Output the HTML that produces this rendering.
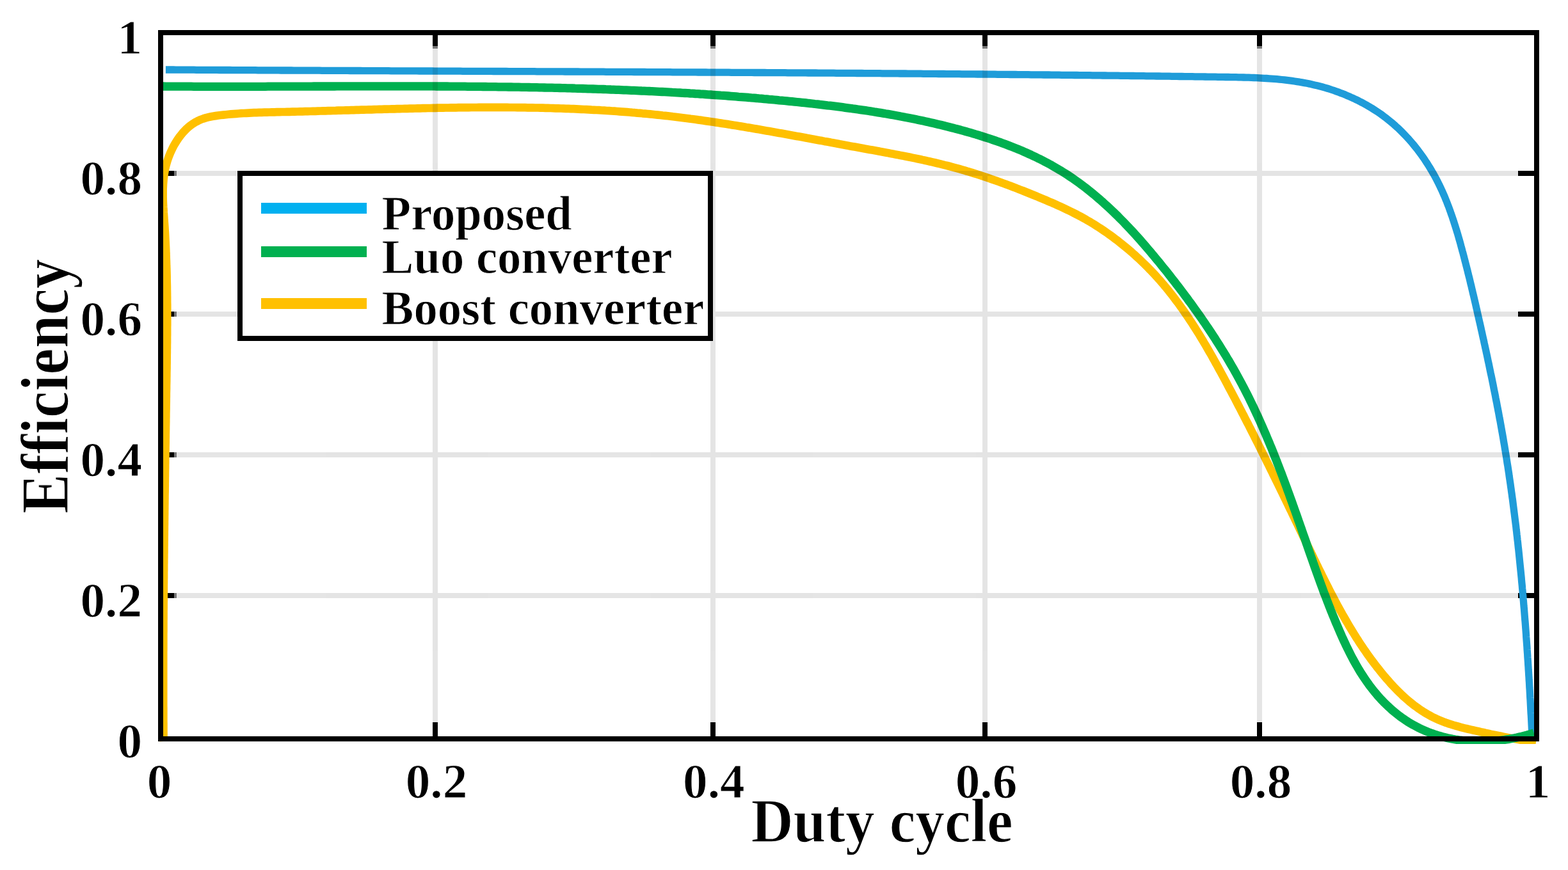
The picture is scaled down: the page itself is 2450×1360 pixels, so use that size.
<!DOCTYPE html>
<html lang="en">
<head>
<meta charset="utf-8">
<title>Efficiency versus duty cycle</title>
<style>
html,body{margin:0;padding:0;background:#fff;}
body{width:2450px;height:1360px;overflow:hidden;}
svg{display:block;}
text{font-family:"Liberation Serif","DejaVu Serif",serif;font-weight:bold;fill:#000;stroke:#fff;stroke-width:1px;}
.axl{stroke-width:1.3px;}
.crisp{shape-rendering:crispEdges;}
.curve{fill:none;stroke-linejoin:round;stroke-linecap:butt;}
</style>
</head>
<body>
<svg xmlns="http://www.w3.org/2000/svg" width="2450" height="1360" viewBox="0 0 2450 1360">
<rect x="0" y="0" width="2450" height="1360" fill="#ffffff"/>
<g class="crisp" fill="#000000">
<rect x="676.0" y="55" width="8" height="17"/>
<rect x="676.0" y="72" width="8" height="4" fill="#777777"/>
<rect x="676.0" y="1129" width="8" height="22"/>
<rect x="1109.5" y="55" width="8" height="17"/>
<rect x="1109.5" y="72" width="8" height="4" fill="#777777"/>
<rect x="1109.5" y="1129" width="8" height="22"/>
<rect x="1534.5" y="55" width="8" height="17"/>
<rect x="1534.5" y="72" width="8" height="4" fill="#777777"/>
<rect x="1534.5" y="1129" width="8" height="22"/>
<rect x="1964.0" y="55" width="8" height="17"/>
<rect x="1964.0" y="72" width="8" height="4" fill="#777777"/>
<rect x="1964.0" y="1129" width="8" height="22"/>
<rect x="255" y="267.0" width="17" height="8"/>
<rect x="272" y="267.0" width="4" height="8" fill="#777777"/>
<rect x="2372" y="267.0" width="25" height="8"/>
<rect x="255" y="487.0" width="17" height="8"/>
<rect x="272" y="487.0" width="4" height="8" fill="#777777"/>
<rect x="2372" y="487.0" width="25" height="8"/>
<rect x="255" y="707.0" width="17" height="8"/>
<rect x="272" y="707.0" width="4" height="8" fill="#777777"/>
<rect x="2372" y="707.0" width="25" height="8"/>
<rect x="255" y="927.0" width="17" height="8"/>
<rect x="272" y="927.0" width="4" height="8" fill="#777777"/>
<rect x="2372" y="927.0" width="25" height="8"/>
</g>
<defs><clipPath id="plotclip"><rect x="247" y="47" width="2158" height="1116"/></clipPath></defs>
<g clip-path="url(#plotclip)">
<path class="curve" stroke="#ffc000" stroke-width="12.7" d="M255.6 1159.0 L255.5 1155.0 L255.5 1151.0 L255.5 1147.0 L255.4 1143.0 L255.4 1139.0 L255.4 1135.0 L255.4 1131.1 L255.3 1127.1 L255.3 1123.1 L255.3 1119.1 L255.3 1115.1 L255.3 1111.1 L255.3 1107.1 L255.2 1103.1 L255.2 1099.1 L255.2 1095.1 L255.2 1091.1 L255.2 1087.1 L255.2 1083.1 L255.2 1079.1 L255.2 1075.1 L255.2 1071.1 L255.2 1067.1 L255.2 1063.2 L255.2 1059.2 L255.2 1055.2 L255.2 1051.2 L255.2 1047.2 L255.2 1043.2 L255.2 1039.2 L255.2 1035.2 L255.2 1031.2 L255.2 1027.2 L255.2 1023.2 L255.2 1019.2 L255.3 1015.2 L255.3 1011.2 L255.3 1007.2 L255.3 1003.2 L255.3 999.2 L255.3 995.2 L255.3 991.2 L255.4 987.2 L255.4 983.2 L255.4 979.2 L255.4 975.2 L255.4 971.2 L255.5 967.2 L255.5 963.2 L255.5 959.2 L255.5 955.2 L255.6 951.2 L255.6 947.2 L255.6 943.2 L255.7 939.2 L255.7 935.2 L255.7 931.2 L255.7 927.2 L255.8 923.2 L255.8 919.2 L255.8 915.2 L255.9 911.2 L255.9 907.2 L256.0 903.2 L256.0 899.2 L256.0 895.2 L256.1 891.2 L256.1 887.2 L256.1 883.2 L256.2 879.2 L256.2 875.2 L256.3 871.2 L256.3 867.3 L256.4 863.3 L256.4 859.3 L256.4 855.3 L256.5 851.3 L256.5 847.3 L256.6 843.3 L256.6 839.3 L256.7 835.3 L256.7 831.3 L256.8 827.3 L256.8 823.3 L256.9 819.3 L256.9 815.3 L257.0 811.3 L257.0 807.3 L257.1 803.3 L257.1 799.3 L257.2 795.3 L257.2 791.3 L257.3 787.3 L257.3 783.3 L257.4 779.3 L257.4 775.3 L257.5 771.3 L257.6 767.3 L257.6 763.3 L257.7 759.3 L257.7 755.3 L257.8 751.3 L257.8 747.3 L257.9 743.3 L257.9 739.3 L258.0 735.3 L258.1 731.3 L258.1 727.3 L258.2 723.3 L258.2 719.3 L258.3 715.3 L258.4 711.3 L258.4 707.3 L258.5 703.3 L258.5 699.3 L258.6 695.4 L258.7 691.4 L258.7 687.4 L258.8 683.4 L258.8 679.4 L258.9 675.4 L259.0 671.4 L259.0 667.4 L259.1 663.4 L259.2 659.4 L259.2 655.4 L259.3 651.4 L259.3 647.4 L259.4 643.4 L259.5 639.4 L259.5 635.4 L259.6 631.5 L259.7 627.5 L259.7 623.5 L259.8 619.5 L259.8 615.5 L259.9 611.5 L260.0 607.5 L260.0 603.5 L260.1 599.5 L260.2 595.5 L260.2 591.5 L260.3 587.6 L260.3 583.6 L260.4 579.6 L260.5 575.6 L260.5 571.6 L260.6 567.6 L260.6 563.6 L260.7 559.6 L260.7 555.6 L260.8 551.7 L260.8 547.7 L260.9 543.7 L260.9 539.7 L261.0 535.7 L261.0 531.7 L261.0 527.7 L261.1 523.7 L261.1 519.7 L261.1 515.8 L261.1 511.8 L261.2 507.8 L261.2 503.8 L261.2 499.8 L261.2 495.8 L261.2 491.8 L261.2 487.8 L261.2 483.8 L261.2 479.8 L261.2 475.8 L261.1 471.8 L261.1 467.9 L261.1 463.9 L261.0 459.9 L261.0 455.9 L260.9 451.9 L260.9 447.9 L260.8 443.9 L260.7 439.9 L260.6 435.9 L260.6 431.9 L260.5 427.9 L260.4 423.9 L260.3 419.9 L260.1 415.9 L260.0 411.9 L259.9 407.9 L259.7 403.9 L259.6 399.9 L259.4 395.8 L259.3 391.8 L259.1 387.8 L258.9 383.8 L258.7 379.8 L258.5 375.8 L258.3 371.8 L258.1 367.8 L257.9 363.8 L257.6 359.7 L257.4 355.7 L257.1 351.7 L256.8 347.7 L256.5 343.7 L256.3 339.6 L256.0 335.6 L255.7 331.6 L255.5 327.6 L255.2 323.6 L255.0 319.6 L254.8 315.6 L254.7 311.6 L254.6 307.6 L254.6 303.6 L254.6 299.7 L254.6 295.7 L254.8 291.8 L255.0 287.8 L255.3 283.9 L255.6 280.0 L256.1 276.1 L256.6 272.2 L257.3 268.4 L258.0 264.5 L258.9 260.7 L259.9 256.9 L261.0 253.1 L262.2 249.4 L263.5 245.6 L265.0 241.9 L266.5 238.2 L268.2 234.6 L269.9 231.0 L271.8 227.4 L273.8 224.0 L275.9 220.6 L278.1 217.2 L280.4 214.0 L282.9 210.8 L285.4 207.7 L288.1 204.8 L290.8 202.0 L293.7 199.3 L296.8 196.8 L299.9 194.4 L303.2 192.3 L306.6 190.3 L310.1 188.5 L313.7 186.9 L317.3 185.6 L321.1 184.4 L324.9 183.4 L328.8 182.5 L332.8 181.7 L336.8 181.1 L340.8 180.5 L344.8 180.0 L348.8 179.6 L352.8 179.2 L356.9 178.8 L360.9 178.4 L364.9 178.1 L368.9 177.8 L372.9 177.5 L376.9 177.2 L380.9 177.0 L384.9 176.8 L388.9 176.6 L392.9 176.4 L396.9 176.2 L400.8 176.1 L404.8 175.9 L408.8 175.8 L412.8 175.7 L416.8 175.6 L420.8 175.5 L424.8 175.4 L428.7 175.3 L432.7 175.2 L436.7 175.1 L440.7 175.0 L444.7 175.0 L448.7 174.9 L452.7 174.8 L456.7 174.7 L460.6 174.6 L464.6 174.5 L468.6 174.4 L472.6 174.3 L476.6 174.2 L480.6 174.1 L484.6 174.0 L488.6 173.9 L492.6 173.8 L496.5 173.6 L500.5 173.5 L504.5 173.4 L508.5 173.3 L512.5 173.2 L516.5 173.1 L520.5 173.0 L524.5 172.9 L528.5 172.7 L532.5 172.6 L536.5 172.5 L540.5 172.4 L544.5 172.3 L548.5 172.2 L552.5 172.1 L556.5 171.9 L560.5 171.8 L564.5 171.7 L568.5 171.6 L572.5 171.5 L576.4 171.4 L580.4 171.3 L584.4 171.1 L588.4 171.0 L592.4 170.9 L596.4 170.8 L600.4 170.7 L604.4 170.6 L608.4 170.5 L612.4 170.4 L616.4 170.3 L620.4 170.2 L624.4 170.1 L628.4 170.0 L632.4 169.9 L636.4 169.8 L640.4 169.7 L644.4 169.6 L648.4 169.5 L652.4 169.4 L656.4 169.3 L660.4 169.2 L664.4 169.1 L668.4 169.0 L672.4 169.0 L676.4 168.9 L680.4 168.8 L684.4 168.7 L688.4 168.7 L692.4 168.6 L696.4 168.5 L700.4 168.5 L704.4 168.4 L708.4 168.3 L712.4 168.3 L716.4 168.2 L720.4 168.2 L724.4 168.1 L728.4 168.1 L732.4 168.1 L736.4 168.0 L740.4 168.0 L744.4 168.0 L748.4 167.9 L752.4 167.9 L756.4 167.9 L760.4 167.9 L764.4 167.9 L768.4 167.9 L772.4 167.9 L776.4 167.9 L780.4 167.9 L784.4 167.9 L788.4 167.9 L792.4 167.9 L796.4 168.0 L800.4 168.0 L804.4 168.0 L808.4 168.1 L812.4 168.1 L816.4 168.1 L820.4 168.2 L824.4 168.3 L828.4 168.3 L832.4 168.4 L836.4 168.5 L840.4 168.5 L844.4 168.6 L848.3 168.7 L852.3 168.8 L856.3 168.9 L860.3 169.0 L864.3 169.1 L868.3 169.3 L872.3 169.4 L876.3 169.5 L880.3 169.6 L884.3 169.8 L888.3 169.9 L892.3 170.1 L896.2 170.2 L900.2 170.4 L904.2 170.6 L908.2 170.8 L912.2 171.0 L916.2 171.1 L920.2 171.3 L924.2 171.6 L928.1 171.8 L932.1 172.0 L936.1 172.2 L940.1 172.5 L944.1 172.7 L948.1 173.0 L952.0 173.2 L956.0 173.5 L960.0 173.7 L964.0 174.0 L968.0 174.3 L971.9 174.6 L975.9 174.9 L979.9 175.2 L983.9 175.5 L987.8 175.9 L991.8 176.2 L995.8 176.6 L999.8 176.9 L1003.8 177.3 L1007.7 177.6 L1011.7 178.0 L1015.7 178.4 L1019.6 178.8 L1023.6 179.2 L1027.6 179.6 L1031.6 180.0 L1035.5 180.5 L1039.5 180.9 L1043.5 181.3 L1047.4 181.8 L1051.4 182.3 L1055.4 182.7 L1059.3 183.2 L1063.3 183.7 L1067.2 184.2 L1071.2 184.7 L1075.2 185.2 L1079.1 185.8 L1083.1 186.3 L1087.1 186.8 L1091.0 187.4 L1095.0 187.9 L1098.9 188.5 L1102.9 189.1 L1106.8 189.6 L1110.8 190.2 L1114.8 190.8 L1118.7 191.4 L1122.7 192.0 L1126.6 192.6 L1130.6 193.2 L1134.5 193.8 L1138.5 194.4 L1142.4 195.1 L1146.4 195.7 L1150.3 196.3 L1154.3 197.0 L1158.2 197.6 L1162.2 198.3 L1166.1 199.0 L1170.1 199.6 L1174.0 200.3 L1178.0 201.0 L1181.9 201.6 L1185.9 202.3 L1189.8 203.0 L1193.8 203.7 L1197.7 204.4 L1201.6 205.1 L1205.6 205.8 L1209.5 206.5 L1213.5 207.2 L1217.4 207.9 L1221.4 208.6 L1225.3 209.3 L1229.2 210.0 L1233.2 210.7 L1237.1 211.4 L1241.1 212.2 L1245.0 212.9 L1248.9 213.6 L1252.9 214.3 L1256.8 215.0 L1260.7 215.8 L1264.7 216.5 L1268.6 217.2 L1272.6 218.0 L1276.5 218.7 L1280.4 219.4 L1284.4 220.1 L1288.3 220.9 L1292.2 221.6 L1296.2 222.3 L1300.1 223.1 L1304.0 223.8 L1308.0 224.5 L1311.9 225.3 L1315.8 226.0 L1319.8 226.7 L1323.7 227.4 L1327.6 228.2 L1331.6 228.9 L1335.5 229.6 L1339.4 230.3 L1343.4 231.0 L1347.3 231.7 L1351.2 232.5 L1355.1 233.2 L1359.1 233.9 L1363.0 234.6 L1366.9 235.3 L1370.9 236.0 L1374.8 236.8 L1378.7 237.5 L1382.6 238.2 L1386.6 238.9 L1390.5 239.7 L1394.4 240.4 L1398.3 241.2 L1402.2 241.9 L1406.1 242.7 L1410.1 243.4 L1414.0 244.2 L1417.9 245.0 L1421.8 245.8 L1425.7 246.6 L1429.6 247.4 L1433.5 248.2 L1437.4 249.0 L1441.3 249.9 L1445.2 250.7 L1449.1 251.6 L1452.9 252.5 L1456.8 253.4 L1460.7 254.3 L1464.6 255.2 L1468.5 256.1 L1472.3 257.1 L1476.2 258.1 L1480.1 259.0 L1483.9 260.0 L1487.8 261.1 L1491.6 262.1 L1495.5 263.1 L1499.3 264.2 L1503.2 265.3 L1507.0 266.4 L1510.8 267.6 L1514.7 268.7 L1518.5 269.9 L1522.3 271.1 L1526.1 272.3 L1529.9 273.5 L1533.7 274.7 L1537.5 276.0 L1541.3 277.3 L1545.1 278.6 L1548.9 279.9 L1552.7 281.2 L1556.5 282.5 L1560.3 283.9 L1564.0 285.2 L1567.8 286.6 L1571.6 288.0 L1575.3 289.4 L1579.1 290.8 L1582.8 292.2 L1586.6 293.7 L1590.3 295.1 L1594.0 296.6 L1597.8 298.0 L1601.5 299.5 L1605.2 301.0 L1608.9 302.5 L1612.6 304.0 L1616.4 305.5 L1620.1 307.0 L1623.8 308.6 L1627.4 310.1 L1631.1 311.6 L1634.8 313.2 L1638.5 314.8 L1642.2 316.3 L1645.8 317.9 L1649.5 319.5 L1653.1 321.2 L1656.7 322.8 L1660.4 324.5 L1664.0 326.2 L1667.6 327.9 L1671.1 329.6 L1674.7 331.4 L1678.3 333.2 L1681.8 335.0 L1685.3 336.8 L1688.8 338.7 L1692.3 340.6 L1695.8 342.6 L1699.2 344.6 L1702.7 346.6 L1706.1 348.6 L1709.5 350.7 L1712.9 352.9 L1716.2 355.0 L1719.6 357.2 L1722.9 359.4 L1726.2 361.6 L1729.5 363.9 L1732.8 366.2 L1736.0 368.5 L1739.2 370.9 L1742.4 373.3 L1745.6 375.7 L1748.8 378.2 L1751.9 380.7 L1755.0 383.2 L1758.1 385.7 L1761.2 388.2 L1764.3 390.8 L1767.3 393.4 L1770.3 396.1 L1773.3 398.8 L1776.2 401.4 L1779.2 404.2 L1782.1 406.9 L1785.0 409.7 L1787.9 412.5 L1790.7 415.3 L1793.5 418.1 L1796.3 421.0 L1799.1 423.8 L1801.8 426.7 L1804.6 429.7 L1807.3 432.6 L1809.9 435.6 L1812.6 438.6 L1815.2 441.6 L1817.8 444.6 L1820.3 447.7 L1822.9 450.7 L1825.4 453.8 L1827.9 456.9 L1830.4 460.1 L1832.8 463.2 L1835.2 466.4 L1837.6 469.6 L1840.0 472.8 L1842.4 476.0 L1844.7 479.2 L1847.0 482.4 L1849.3 485.7 L1851.6 489.0 L1853.8 492.3 L1856.1 495.6 L1858.3 498.9 L1860.5 502.2 L1862.7 505.5 L1864.8 508.9 L1867.0 512.3 L1869.1 515.6 L1871.2 519.0 L1873.4 522.4 L1875.4 525.8 L1877.5 529.3 L1879.6 532.7 L1881.6 536.1 L1883.7 539.6 L1885.7 543.0 L1887.7 546.5 L1889.7 550.0 L1891.7 553.4 L1893.7 556.9 L1895.6 560.4 L1897.6 563.9 L1899.5 567.4 L1901.5 570.9 L1903.4 574.4 L1905.3 577.9 L1907.3 581.5 L1909.2 585.0 L1911.1 588.5 L1913.0 592.0 L1914.9 595.6 L1916.8 599.1 L1918.6 602.6 L1920.5 606.2 L1922.4 609.7 L1924.3 613.3 L1926.1 616.8 L1928.0 620.3 L1929.9 623.9 L1931.7 627.4 L1933.6 631.0 L1935.4 634.5 L1937.3 638.1 L1939.1 641.6 L1940.9 645.2 L1942.8 648.7 L1944.6 652.3 L1946.4 655.8 L1948.2 659.4 L1950.1 662.9 L1951.9 666.5 L1953.7 670.0 L1955.5 673.6 L1957.3 677.2 L1959.1 680.7 L1960.9 684.3 L1962.7 687.9 L1964.5 691.4 L1966.3 695.0 L1968.1 698.6 L1969.9 702.1 L1971.6 705.7 L1973.4 709.3 L1975.2 712.8 L1977.0 716.4 L1978.7 720.0 L1980.5 723.6 L1982.3 727.1 L1984.0 730.7 L1985.8 734.3 L1987.6 737.9 L1989.3 741.5 L1991.1 745.0 L1992.8 748.6 L1994.6 752.2 L1996.4 755.8 L1998.1 759.4 L1999.9 763.0 L2001.6 766.6 L2003.3 770.1 L2005.1 773.7 L2006.8 777.3 L2008.6 780.9 L2010.3 784.5 L2012.1 788.1 L2013.8 791.7 L2015.5 795.3 L2017.3 798.9 L2019.0 802.5 L2020.7 806.1 L2022.5 809.7 L2024.2 813.3 L2025.9 816.9 L2027.7 820.5 L2029.4 824.1 L2031.1 827.7 L2032.9 831.3 L2034.6 834.9 L2036.3 838.5 L2038.1 842.1 L2039.8 845.7 L2041.5 849.3 L2043.2 853.0 L2045.0 856.6 L2046.7 860.2 L2048.4 863.8 L2050.2 867.4 L2051.9 871.0 L2053.6 874.6 L2055.4 878.2 L2057.1 881.8 L2058.9 885.4 L2060.6 889.0 L2062.4 892.6 L2064.2 896.2 L2065.9 899.8 L2067.7 903.4 L2069.5 907.0 L2071.3 910.6 L2073.1 914.1 L2074.9 917.7 L2076.7 921.3 L2078.5 924.8 L2080.4 928.4 L2082.2 931.9 L2084.1 935.5 L2085.9 939.0 L2087.8 942.5 L2089.7 946.1 L2091.6 949.6 L2093.5 953.1 L2095.5 956.6 L2097.4 960.1 L2099.4 963.5 L2101.4 967.0 L2103.4 970.5 L2105.4 973.9 L2107.4 977.4 L2109.4 980.8 L2111.5 984.2 L2113.6 987.6 L2115.7 991.0 L2117.8 994.4 L2119.9 997.8 L2122.1 1001.1 L2124.2 1004.5 L2126.4 1007.8 L2128.7 1011.1 L2130.9 1014.4 L2133.2 1017.7 L2135.4 1021.0 L2137.7 1024.2 L2140.1 1027.5 L2142.4 1030.7 L2144.8 1033.9 L2147.2 1037.1 L2149.6 1040.3 L2152.1 1043.5 L2154.6 1046.6 L2157.1 1049.7 L2159.6 1052.9 L2162.2 1056.0 L2164.8 1059.0 L2167.4 1062.1 L2170.1 1065.1 L2172.7 1068.1 L2175.5 1071.1 L2178.2 1074.0 L2181.0 1076.9 L2183.8 1079.7 L2186.6 1082.5 L2189.5 1085.3 L2192.4 1088.1 L2195.4 1090.7 L2198.4 1093.4 L2201.4 1096.0 L2204.5 1098.5 L2207.6 1101.0 L2210.7 1103.4 L2213.9 1105.7 L2217.1 1108.0 L2220.4 1110.2 L2223.7 1112.4 L2227.1 1114.5 L2230.5 1116.5 L2233.9 1118.4 L2237.4 1120.3 L2240.9 1122.1 L2244.5 1123.8 L2248.1 1125.4 L2251.8 1126.9 L2255.5 1128.4 L2259.2 1129.8 L2263.0 1131.1 L2266.8 1132.3 L2270.7 1133.5 L2274.6 1134.6 L2278.4 1135.7 L2282.4 1136.8 L2286.3 1137.8 L2290.2 1138.8 L2294.1 1139.7 L2298.1 1140.6 L2302.0 1141.5 L2306.0 1142.4 L2309.9 1143.3 L2313.8 1144.2 L2317.7 1145.0 L2321.6 1145.9 L2325.5 1146.7 L2329.4 1147.6 L2333.3 1148.4 L2337.2 1149.2 L2341.1 1150.0 L2345.0 1150.8 L2348.9 1151.6 L2352.8 1152.4 L2356.6 1153.2 L2360.5 1153.9 L2364.4 1154.6 L2368.3 1155.3 L2372.3 1156.0 L2376.2 1156.7 L2380.1 1157.3 L2384.1 1158.0 L2388.0 1158.6 L2392.0 1159.2 L2396.0 1159.7 L2400.0 1160.3"/>
<path class="curve" stroke="#1f9cd9" stroke-width="11.3" d="M258.9 109.0 L262.9 109.0 L266.9 109.0 L270.9 109.0 L274.9 109.1 L278.9 109.1 L282.9 109.1 L286.9 109.1 L290.9 109.2 L294.9 109.2 L299.0 109.2 L303.0 109.2 L307.0 109.3 L311.0 109.3 L315.0 109.3 L319.0 109.3 L323.0 109.3 L327.0 109.4 L331.0 109.4 L335.0 109.4 L339.0 109.4 L343.0 109.5 L347.0 109.5 L351.0 109.5 L355.0 109.5 L359.0 109.5 L363.0 109.6 L367.0 109.6 L371.0 109.6 L375.0 109.6 L379.0 109.6 L383.0 109.7 L387.0 109.7 L391.0 109.7 L395.0 109.7 L399.0 109.7 L403.0 109.8 L407.1 109.8 L411.1 109.8 L415.1 109.8 L419.1 109.9 L423.1 109.9 L427.1 109.9 L431.1 109.9 L435.1 109.9 L439.1 110.0 L443.1 110.0 L447.1 110.0 L451.1 110.0 L455.1 110.0 L459.1 110.1 L463.1 110.1 L467.1 110.1 L471.1 110.1 L475.1 110.1 L479.1 110.1 L483.1 110.2 L487.1 110.2 L491.1 110.2 L495.1 110.2 L499.1 110.2 L503.1 110.3 L507.1 110.3 L511.1 110.3 L515.1 110.3 L519.1 110.3 L523.1 110.4 L527.1 110.4 L531.1 110.4 L535.1 110.4 L539.1 110.4 L543.1 110.4 L547.1 110.5 L551.1 110.5 L555.1 110.5 L559.1 110.5 L563.1 110.5 L567.1 110.6 L571.1 110.6 L575.1 110.6 L579.1 110.6 L583.1 110.6 L587.1 110.7 L591.1 110.7 L595.1 110.7 L599.1 110.7 L603.1 110.7 L607.1 110.7 L611.1 110.8 L615.1 110.8 L619.1 110.8 L623.1 110.8 L627.1 110.8 L631.1 110.8 L635.1 110.9 L639.1 110.9 L643.1 110.9 L647.1 110.9 L651.1 110.9 L655.1 111.0 L659.1 111.0 L663.1 111.0 L667.1 111.0 L671.1 111.0 L675.1 111.0 L679.1 111.1 L683.1 111.1 L687.1 111.1 L691.1 111.1 L695.1 111.1 L699.1 111.1 L703.1 111.2 L707.1 111.2 L711.1 111.2 L715.1 111.2 L719.1 111.2 L723.1 111.3 L727.1 111.3 L731.1 111.3 L735.1 111.3 L739.1 111.3 L743.1 111.3 L747.1 111.4 L751.1 111.4 L755.1 111.4 L759.1 111.4 L763.1 111.4 L767.1 111.4 L771.1 111.5 L775.1 111.5 L779.1 111.5 L783.1 111.5 L787.1 111.5 L791.1 111.5 L795.1 111.6 L799.1 111.6 L803.1 111.6 L807.1 111.6 L811.1 111.6 L815.1 111.7 L819.1 111.7 L823.0 111.7 L827.0 111.7 L831.0 111.7 L835.0 111.7 L839.0 111.8 L843.0 111.8 L847.0 111.8 L851.0 111.8 L855.0 111.8 L859.0 111.8 L863.0 111.9 L867.0 111.9 L871.0 111.9 L875.0 111.9 L879.0 111.9 L883.0 112.0 L887.0 112.0 L891.0 112.0 L895.0 112.0 L899.0 112.0 L903.0 112.0 L907.0 112.1 L911.0 112.1 L915.0 112.1 L919.0 112.1 L923.0 112.1 L927.0 112.2 L931.0 112.2 L935.0 112.2 L939.0 112.2 L943.0 112.2 L947.0 112.3 L951.0 112.3 L955.0 112.3 L959.0 112.3 L963.0 112.3 L967.0 112.3 L971.0 112.4 L975.0 112.4 L979.0 112.4 L983.0 112.4 L987.0 112.4 L990.9 112.5 L994.9 112.5 L998.9 112.5 L1002.9 112.5 L1006.9 112.5 L1010.9 112.6 L1014.9 112.6 L1018.9 112.6 L1022.9 112.6 L1026.9 112.6 L1030.9 112.7 L1034.9 112.7 L1038.9 112.7 L1042.9 112.7 L1046.9 112.7 L1050.9 112.8 L1054.9 112.8 L1058.9 112.8 L1062.9 112.8 L1066.9 112.8 L1070.9 112.9 L1074.9 112.9 L1078.9 112.9 L1082.9 112.9 L1086.9 112.9 L1090.9 113.0 L1094.9 113.0 L1098.9 113.0 L1102.9 113.0 L1106.9 113.1 L1110.9 113.1 L1114.9 113.1 L1118.9 113.1 L1122.9 113.1 L1126.9 113.2 L1130.9 113.2 L1134.9 113.2 L1138.9 113.2 L1142.9 113.3 L1146.8 113.3 L1150.8 113.3 L1154.8 113.3 L1158.8 113.3 L1162.8 113.4 L1166.8 113.4 L1170.8 113.4 L1174.8 113.4 L1178.8 113.5 L1182.8 113.5 L1186.8 113.5 L1190.8 113.5 L1194.8 113.5 L1198.8 113.6 L1202.8 113.6 L1206.8 113.6 L1210.8 113.6 L1214.8 113.7 L1218.8 113.7 L1222.8 113.7 L1226.8 113.7 L1230.8 113.8 L1234.8 113.8 L1238.8 113.8 L1242.8 113.8 L1246.8 113.9 L1250.8 113.9 L1254.8 113.9 L1258.8 113.9 L1262.8 114.0 L1266.8 114.0 L1270.8 114.0 L1274.8 114.0 L1278.8 114.1 L1282.8 114.1 L1286.8 114.1 L1290.8 114.2 L1294.8 114.2 L1298.8 114.2 L1302.8 114.2 L1306.8 114.3 L1310.8 114.3 L1314.8 114.3 L1318.8 114.3 L1322.8 114.4 L1326.8 114.4 L1330.8 114.4 L1334.8 114.4 L1338.8 114.5 L1342.8 114.5 L1346.8 114.5 L1350.8 114.6 L1354.8 114.6 L1358.7 114.6 L1362.7 114.6 L1366.7 114.7 L1370.7 114.7 L1374.7 114.7 L1378.7 114.8 L1382.7 114.8 L1386.7 114.8 L1390.7 114.9 L1394.7 114.9 L1398.7 114.9 L1402.7 114.9 L1406.7 115.0 L1410.7 115.0 L1414.7 115.0 L1418.7 115.1 L1422.7 115.1 L1426.7 115.1 L1430.7 115.2 L1434.7 115.2 L1438.7 115.2 L1442.7 115.3 L1446.7 115.3 L1450.7 115.3 L1454.7 115.4 L1458.7 115.4 L1462.7 115.4 L1466.7 115.5 L1470.7 115.5 L1474.7 115.5 L1478.7 115.6 L1482.7 115.6 L1486.7 115.6 L1490.7 115.7 L1494.7 115.7 L1498.7 115.7 L1502.7 115.8 L1506.7 115.8 L1510.7 115.8 L1514.7 115.9 L1518.7 115.9 L1522.7 115.9 L1526.7 116.0 L1530.7 116.0 L1534.7 116.0 L1538.7 116.1 L1542.7 116.1 L1546.7 116.2 L1550.7 116.2 L1554.7 116.2 L1558.7 116.3 L1562.7 116.3 L1566.7 116.3 L1570.8 116.4 L1574.8 116.4 L1578.8 116.5 L1582.8 116.5 L1586.8 116.5 L1590.8 116.6 L1594.8 116.6 L1598.8 116.6 L1602.8 116.7 L1606.8 116.7 L1610.8 116.8 L1614.8 116.8 L1618.8 116.8 L1622.8 116.9 L1626.8 116.9 L1630.8 117.0 L1634.8 117.0 L1638.8 117.0 L1642.8 117.1 L1646.8 117.1 L1650.8 117.2 L1654.8 117.2 L1658.8 117.3 L1662.8 117.3 L1666.8 117.3 L1670.8 117.4 L1674.8 117.4 L1678.8 117.5 L1682.8 117.5 L1686.8 117.6 L1690.8 117.6 L1694.8 117.6 L1698.8 117.7 L1702.8 117.7 L1706.8 117.8 L1710.8 117.8 L1714.8 117.9 L1718.8 117.9 L1722.9 118.0 L1726.9 118.0 L1730.9 118.1 L1734.9 118.1 L1738.9 118.2 L1742.9 118.2 L1746.9 118.2 L1750.9 118.3 L1754.9 118.3 L1758.9 118.4 L1762.9 118.4 L1766.9 118.5 L1770.9 118.5 L1774.9 118.6 L1778.9 118.6 L1782.9 118.7 L1786.9 118.7 L1790.9 118.8 L1794.9 118.8 L1798.9 118.9 L1802.9 118.9 L1807.0 119.0 L1811.0 119.0 L1815.0 119.1 L1819.0 119.1 L1823.0 119.2 L1827.0 119.2 L1831.0 119.3 L1835.0 119.3 L1839.0 119.4 L1843.0 119.5 L1847.0 119.5 L1851.0 119.6 L1855.0 119.6 L1859.0 119.7 L1863.0 119.7 L1867.0 119.8 L1871.1 119.8 L1875.1 119.9 L1879.1 119.9 L1883.1 120.0 L1887.1 120.1 L1891.1 120.1 L1895.1 120.2 L1899.1 120.2 L1903.1 120.3 L1907.1 120.3 L1911.1 120.4 L1915.1 120.5 L1919.1 120.5 L1923.2 120.6 L1927.2 120.6 L1931.2 120.7 L1935.2 120.8 L1939.2 120.9 L1943.2 121.0 L1947.2 121.1 L1951.2 121.2 L1955.2 121.4 L1959.2 121.5 L1963.2 121.7 L1967.2 121.9 L1971.2 122.1 L1975.1 122.3 L1979.1 122.5 L1983.1 122.8 L1987.1 123.1 L1991.1 123.4 L1995.0 123.7 L1999.0 124.1 L2003.0 124.5 L2006.9 124.9 L2010.9 125.4 L2014.8 125.9 L2018.8 126.4 L2022.7 127.0 L2026.6 127.6 L2030.6 128.2 L2034.5 128.9 L2038.4 129.6 L2042.3 130.3 L2046.2 131.1 L2050.1 132.0 L2054.0 132.9 L2057.9 133.8 L2061.8 134.8 L2065.7 135.8 L2069.5 136.9 L2073.4 138.0 L2077.2 139.2 L2081.1 140.5 L2084.9 141.7 L2088.7 143.1 L2092.5 144.4 L2096.2 145.9 L2100.0 147.3 L2103.7 148.9 L2107.4 150.4 L2111.1 152.1 L2114.8 153.7 L2118.4 155.5 L2122.1 157.2 L2125.6 159.1 L2129.2 160.9 L2132.7 162.9 L2136.2 164.8 L2139.7 166.9 L2143.1 168.9 L2146.6 171.1 L2149.9 173.2 L2153.2 175.4 L2156.5 177.7 L2159.8 180.0 L2163.0 182.4 L2166.2 184.8 L2169.3 187.3 L2172.4 189.8 L2175.5 192.4 L2178.5 195.0 L2181.4 197.7 L2184.4 200.3 L2187.2 203.1 L2190.1 205.9 L2192.9 208.7 L2195.7 211.6 L2198.4 214.5 L2201.1 217.4 L2203.7 220.4 L2206.3 223.4 L2208.9 226.5 L2211.4 229.6 L2213.9 232.7 L2216.3 235.9 L2218.7 239.1 L2221.0 242.3 L2223.3 245.6 L2225.6 248.8 L2227.8 252.2 L2230.0 255.5 L2232.1 258.9 L2234.2 262.3 L2236.3 265.7 L2238.3 269.2 L2240.3 272.6 L2242.2 276.1 L2244.1 279.7 L2245.9 283.2 L2247.7 286.8 L2249.5 290.4 L2251.2 294.0 L2252.9 297.6 L2254.5 301.3 L2256.1 304.9 L2257.7 308.6 L2259.2 312.3 L2260.7 316.0 L2262.1 319.7 L2263.6 323.5 L2264.9 327.2 L2266.3 331.0 L2267.6 334.8 L2269.0 338.6 L2270.2 342.4 L2271.5 346.2 L2272.7 350.0 L2273.9 353.8 L2275.1 357.7 L2276.3 361.5 L2277.5 365.4 L2278.6 369.2 L2279.7 373.1 L2280.8 376.9 L2281.9 380.8 L2282.9 384.7 L2284.0 388.6 L2285.0 392.5 L2286.1 396.3 L2287.1 400.2 L2288.1 404.1 L2289.1 408.0 L2290.1 411.9 L2291.1 415.7 L2292.1 419.6 L2293.1 423.5 L2294.0 427.4 L2295.0 431.3 L2296.0 435.2 L2296.9 439.1 L2297.8 443.0 L2298.8 446.8 L2299.7 450.7 L2300.6 454.6 L2301.5 458.5 L2302.5 462.4 L2303.4 466.3 L2304.3 470.2 L2305.2 474.1 L2306.1 478.0 L2307.0 481.9 L2307.9 485.8 L2308.7 489.7 L2309.6 493.6 L2310.5 497.5 L2311.4 501.4 L2312.3 505.3 L2313.2 509.2 L2314.0 513.1 L2314.9 517.0 L2315.8 520.9 L2316.6 524.8 L2317.5 528.7 L2318.4 532.6 L2319.2 536.5 L2320.1 540.4 L2320.9 544.3 L2321.8 548.2 L2322.6 552.1 L2323.5 556.0 L2324.3 559.9 L2325.1 563.8 L2326.0 567.8 L2326.8 571.7 L2327.6 575.6 L2328.4 579.5 L2329.2 583.4 L2330.1 587.3 L2330.9 591.2 L2331.7 595.2 L2332.5 599.1 L2333.3 603.0 L2334.0 606.9 L2334.8 610.8 L2335.6 614.7 L2336.4 618.7 L2337.1 622.6 L2337.9 626.5 L2338.7 630.4 L2339.4 634.4 L2340.2 638.3 L2340.9 642.2 L2341.7 646.1 L2342.4 650.1 L2343.1 654.0 L2343.9 657.9 L2344.6 661.9 L2345.3 665.8 L2346.0 669.7 L2346.7 673.7 L2347.4 677.6 L2348.1 681.5 L2348.8 685.5 L2349.4 689.4 L2350.1 693.4 L2350.8 697.3 L2351.4 701.2 L2352.1 705.2 L2352.7 709.1 L2353.4 713.1 L2354.0 717.0 L2354.6 721.0 L2355.2 724.9 L2355.9 728.9 L2356.5 732.8 L2357.1 736.8 L2357.7 740.7 L2358.2 744.7 L2358.8 748.6 L2359.4 752.6 L2360.0 756.6 L2360.5 760.5 L2361.1 764.5 L2361.6 768.4 L2362.2 772.4 L2362.7 776.4 L2363.3 780.3 L2363.8 784.3 L2364.3 788.3 L2364.8 792.2 L2365.3 796.2 L2365.8 800.2 L2366.3 804.1 L2366.8 808.1 L2367.3 812.1 L2367.8 816.0 L2368.3 820.0 L2368.8 824.0 L2369.2 828.0 L2369.7 831.9 L2370.1 835.9 L2370.6 839.9 L2371.0 843.9 L2371.5 847.8 L2371.9 851.8 L2372.3 855.8 L2372.8 859.8 L2373.2 863.8 L2373.6 867.7 L2374.0 871.7 L2374.4 875.7 L2374.8 879.7 L2375.2 883.7 L2375.6 887.6 L2376.0 891.6 L2376.4 895.6 L2376.8 899.6 L2377.2 903.6 L2377.5 907.6 L2377.9 911.6 L2378.3 915.5 L2378.6 919.5 L2379.0 923.5 L2379.3 927.5 L2379.7 931.5 L2380.0 935.5 L2380.4 939.5 L2380.7 943.5 L2381.0 947.4 L2381.4 951.4 L2381.7 955.4 L2382.0 959.4 L2382.3 963.4 L2382.6 967.4 L2383.0 971.4 L2383.3 975.4 L2383.6 979.4 L2383.9 983.4 L2384.2 987.3 L2384.5 991.3 L2384.7 995.3 L2385.0 999.3 L2385.3 1003.3 L2385.6 1007.3 L2385.9 1011.3 L2386.1 1015.3 L2386.4 1019.3 L2386.7 1023.3 L2386.9 1027.3 L2387.2 1031.3 L2387.5 1035.2 L2387.7 1039.2 L2388.0 1043.2 L2388.2 1047.2 L2388.5 1051.2 L2388.7 1055.2 L2389.0 1059.2 L2389.2 1063.2 L2389.5 1067.2 L2389.7 1071.2 L2389.9 1075.2 L2390.2 1079.2 L2390.4 1083.1 L2390.6 1087.1 L2390.8 1091.1 L2391.1 1095.1 L2391.3 1099.1 L2391.5 1103.1 L2391.7 1107.1 L2391.9 1111.1 L2392.1 1115.1 L2392.4 1119.1 L2392.6 1123.0 L2392.8 1127.0 L2393.0 1131.0 L2393.2 1135.0 L2393.4 1139.0 L2393.6 1143.0 L2393.8 1147.0 L2394.0 1151.0 L2394.2 1154.9"/>
<path class="curve" stroke="#00b050" stroke-width="13.3" d="M251.1 135.0 L255.1 135.0 L259.1 135.1 L263.1 135.1 L267.0 135.1 L271.0 135.1 L275.0 135.2 L279.0 135.2 L283.0 135.2 L287.0 135.2 L290.9 135.2 L294.9 135.2 L298.9 135.2 L302.9 135.3 L306.9 135.3 L310.9 135.3 L314.8 135.3 L318.8 135.3 L322.8 135.3 L326.8 135.3 L330.8 135.3 L334.8 135.3 L338.8 135.3 L342.8 135.3 L346.8 135.3 L350.7 135.3 L354.7 135.3 L358.7 135.3 L362.7 135.3 L366.7 135.3 L370.7 135.3 L374.7 135.3 L378.7 135.3 L382.7 135.3 L386.7 135.3 L390.7 135.3 L394.6 135.3 L398.6 135.3 L402.6 135.3 L406.6 135.3 L410.6 135.3 L414.6 135.3 L418.6 135.2 L422.6 135.2 L426.6 135.2 L430.6 135.2 L434.6 135.2 L438.6 135.2 L442.6 135.2 L446.6 135.2 L450.6 135.2 L454.6 135.2 L458.6 135.1 L462.6 135.1 L466.6 135.1 L470.6 135.1 L474.6 135.1 L478.5 135.1 L482.5 135.1 L486.5 135.1 L490.5 135.0 L494.5 135.0 L498.5 135.0 L502.5 135.0 L506.5 135.0 L510.5 135.0 L514.5 135.0 L518.5 135.0 L522.5 135.0 L526.5 134.9 L530.5 134.9 L534.5 134.9 L538.5 134.9 L542.5 134.9 L546.5 134.9 L550.5 134.9 L554.5 134.9 L558.5 134.9 L562.5 134.9 L566.5 134.9 L570.5 134.9 L574.5 134.8 L578.6 134.8 L582.6 134.8 L586.6 134.8 L590.6 134.8 L594.6 134.8 L598.6 134.8 L602.6 134.8 L606.6 134.8 L610.6 134.8 L614.6 134.8 L618.6 134.8 L622.6 134.8 L626.6 134.8 L630.6 134.8 L634.6 134.8 L638.6 134.8 L642.6 134.8 L646.6 134.9 L650.6 134.9 L654.6 134.9 L658.6 134.9 L662.6 134.9 L666.6 134.9 L670.6 134.9 L674.6 134.9 L678.6 134.9 L682.6 135.0 L686.6 135.0 L690.6 135.0 L694.6 135.0 L698.6 135.0 L702.6 135.1 L706.6 135.1 L710.6 135.1 L714.7 135.1 L718.7 135.2 L722.7 135.2 L726.7 135.2 L730.7 135.3 L734.7 135.3 L738.7 135.3 L742.7 135.4 L746.7 135.4 L750.7 135.4 L754.7 135.5 L758.7 135.5 L762.7 135.6 L766.7 135.6 L770.7 135.7 L774.7 135.7 L778.7 135.8 L782.7 135.8 L786.7 135.9 L790.7 135.9 L794.7 136.0 L798.7 136.0 L802.7 136.1 L806.7 136.2 L810.7 136.2 L814.7 136.3 L818.7 136.4 L822.7 136.4 L826.7 136.5 L830.7 136.6 L834.7 136.6 L838.7 136.7 L842.7 136.8 L846.7 136.9 L850.7 137.0 L854.7 137.1 L858.7 137.1 L862.7 137.2 L866.7 137.3 L870.7 137.4 L874.7 137.5 L878.7 137.6 L882.7 137.7 L886.7 137.8 L890.7 137.9 L894.7 138.0 L898.7 138.2 L902.7 138.3 L906.7 138.4 L910.7 138.5 L914.7 138.6 L918.7 138.8 L922.7 138.9 L926.7 139.0 L930.7 139.1 L934.7 139.3 L938.7 139.4 L942.7 139.5 L946.7 139.7 L950.7 139.8 L954.7 140.0 L958.7 140.1 L962.7 140.3 L966.7 140.4 L970.7 140.6 L974.6 140.8 L978.6 140.9 L982.6 141.1 L986.6 141.3 L990.6 141.4 L994.6 141.6 L998.6 141.8 L1002.6 142.0 L1006.6 142.1 L1010.6 142.3 L1014.6 142.5 L1018.6 142.7 L1022.6 142.9 L1026.5 143.1 L1030.5 143.3 L1034.5 143.5 L1038.5 143.7 L1042.5 143.9 L1046.5 144.1 L1050.5 144.4 L1054.5 144.6 L1058.5 144.8 L1062.4 145.0 L1066.4 145.3 L1070.4 145.5 L1074.4 145.7 L1078.4 146.0 L1082.4 146.2 L1086.4 146.5 L1090.3 146.7 L1094.3 147.0 L1098.3 147.2 L1102.3 147.5 L1106.3 147.8 L1110.3 148.0 L1114.2 148.3 L1118.2 148.6 L1122.2 148.9 L1126.2 149.2 L1130.2 149.4 L1134.2 149.7 L1138.1 150.0 L1142.1 150.3 L1146.1 150.6 L1150.1 150.9 L1154.1 151.3 L1158.0 151.6 L1162.0 151.9 L1166.0 152.2 L1170.0 152.5 L1173.9 152.9 L1177.9 153.2 L1181.9 153.5 L1185.9 153.9 L1189.8 154.2 L1193.8 154.6 L1197.8 154.9 L1201.8 155.3 L1205.7 155.6 L1209.7 156.0 L1213.7 156.4 L1217.6 156.8 L1221.6 157.1 L1225.6 157.5 L1229.6 157.9 L1233.5 158.3 L1237.5 158.7 L1241.5 159.1 L1245.4 159.5 L1249.4 159.9 L1253.4 160.3 L1257.3 160.7 L1261.3 161.2 L1265.3 161.6 L1269.2 162.0 L1273.2 162.5 L1277.1 162.9 L1281.1 163.4 L1285.1 163.8 L1289.0 164.3 L1293.0 164.8 L1296.9 165.2 L1300.9 165.7 L1304.9 166.2 L1308.8 166.7 L1312.8 167.2 L1316.7 167.7 L1320.7 168.3 L1324.6 168.8 L1328.6 169.3 L1332.5 169.9 L1336.5 170.4 L1340.4 171.0 L1344.4 171.6 L1348.3 172.1 L1352.3 172.7 L1356.2 173.3 L1360.2 173.9 L1364.1 174.5 L1368.0 175.2 L1372.0 175.8 L1375.9 176.4 L1379.9 177.1 L1383.8 177.8 L1387.7 178.4 L1391.7 179.1 L1395.6 179.8 L1399.5 180.5 L1403.5 181.2 L1407.4 182.0 L1411.3 182.7 L1415.2 183.5 L1419.2 184.2 L1423.1 185.0 L1427.0 185.8 L1430.9 186.6 L1434.8 187.4 L1438.8 188.3 L1442.7 189.1 L1446.6 189.9 L1450.5 190.8 L1454.4 191.7 L1458.3 192.6 L1462.2 193.5 L1466.1 194.4 L1470.0 195.3 L1473.9 196.3 L1477.8 197.3 L1481.7 198.2 L1485.6 199.2 L1489.5 200.2 L1493.4 201.3 L1497.3 202.3 L1501.2 203.3 L1505.1 204.4 L1509.0 205.5 L1512.9 206.6 L1516.8 207.7 L1520.6 208.8 L1524.5 210.0 L1528.4 211.2 L1532.2 212.4 L1536.1 213.6 L1539.9 214.8 L1543.8 216.0 L1547.6 217.3 L1551.4 218.6 L1555.2 219.9 L1559.1 221.2 L1562.9 222.6 L1566.6 223.9 L1570.4 225.3 L1574.2 226.7 L1578.0 228.2 L1581.7 229.6 L1585.4 231.1 L1589.2 232.6 L1592.9 234.2 L1596.6 235.7 L1600.3 237.3 L1603.9 238.9 L1607.6 240.6 L1611.2 242.2 L1614.8 243.9 L1618.4 245.6 L1622.0 247.4 L1625.6 249.1 L1629.1 250.9 L1632.7 252.8 L1636.2 254.6 L1639.7 256.5 L1643.2 258.4 L1646.6 260.4 L1650.1 262.4 L1653.5 264.4 L1656.9 266.4 L1660.2 268.5 L1663.6 270.6 L1666.9 272.7 L1670.2 274.9 L1673.5 277.1 L1676.8 279.3 L1680.0 281.6 L1683.2 283.9 L1686.4 286.2 L1689.6 288.6 L1692.8 290.9 L1695.9 293.3 L1699.0 295.8 L1702.1 298.2 L1705.2 300.7 L1708.3 303.2 L1711.3 305.8 L1714.3 308.3 L1717.3 310.9 L1720.3 313.5 L1723.3 316.1 L1726.2 318.8 L1729.2 321.5 L1732.1 324.2 L1735.0 326.9 L1737.9 329.6 L1740.8 332.4 L1743.6 335.1 L1746.5 337.9 L1749.3 340.8 L1752.1 343.6 L1754.9 346.4 L1757.7 349.3 L1760.4 352.2 L1763.2 355.1 L1765.9 358.0 L1768.6 360.9 L1771.4 363.9 L1774.1 366.9 L1776.7 369.8 L1779.4 372.8 L1782.1 375.8 L1784.7 378.8 L1787.4 381.9 L1790.0 384.9 L1792.6 388.0 L1795.2 391.0 L1797.8 394.1 L1800.4 397.2 L1803.0 400.3 L1805.5 403.4 L1808.1 406.5 L1810.7 409.6 L1813.2 412.7 L1815.7 415.8 L1818.2 419.0 L1820.8 422.1 L1823.3 425.2 L1825.8 428.4 L1828.3 431.5 L1830.7 434.7 L1833.2 437.9 L1835.7 441.0 L1838.1 444.2 L1840.6 447.4 L1843.0 450.6 L1845.4 453.8 L1847.9 457.0 L1850.3 460.2 L1852.7 463.4 L1855.1 466.6 L1857.4 469.9 L1859.8 473.1 L1862.2 476.3 L1864.5 479.6 L1866.8 482.8 L1869.2 486.1 L1871.5 489.3 L1873.8 492.6 L1876.1 495.9 L1878.4 499.2 L1880.6 502.5 L1882.9 505.8 L1885.1 509.1 L1887.4 512.4 L1889.6 515.7 L1891.8 519.0 L1894.0 522.4 L1896.2 525.7 L1898.4 529.0 L1900.5 532.4 L1902.7 535.8 L1904.8 539.1 L1906.9 542.5 L1909.0 545.9 L1911.1 549.3 L1913.2 552.7 L1915.3 556.1 L1917.3 559.5 L1919.4 562.9 L1921.4 566.4 L1923.4 569.8 L1925.4 573.3 L1927.4 576.7 L1929.3 580.2 L1931.3 583.6 L1933.2 587.1 L1935.1 590.6 L1937.0 594.1 L1938.9 597.6 L1940.8 601.1 L1942.6 604.7 L1944.5 608.2 L1946.3 611.7 L1948.1 615.3 L1949.9 618.8 L1951.7 622.4 L1953.4 626.0 L1955.2 629.6 L1956.9 633.1 L1958.6 636.7 L1960.3 640.3 L1962.0 644.0 L1963.7 647.6 L1965.4 651.2 L1967.0 654.8 L1968.7 658.5 L1970.3 662.1 L1971.9 665.7 L1973.5 669.4 L1975.1 673.1 L1976.7 676.7 L1978.3 680.4 L1979.8 684.1 L1981.4 687.8 L1982.9 691.4 L1984.4 695.1 L1986.0 698.8 L1987.5 702.5 L1989.0 706.2 L1990.4 709.9 L1991.9 713.7 L1993.4 717.4 L1994.9 721.1 L1996.3 724.8 L1997.8 728.6 L1999.2 732.3 L2000.6 736.0 L2002.1 739.8 L2003.5 743.5 L2004.9 747.3 L2006.3 751.0 L2007.7 754.8 L2009.1 758.5 L2010.5 762.3 L2011.8 766.0 L2013.2 769.8 L2014.6 773.5 L2015.9 777.3 L2017.3 781.1 L2018.7 784.8 L2020.0 788.6 L2021.3 792.4 L2022.7 796.2 L2024.0 799.9 L2025.4 803.7 L2026.7 807.5 L2028.0 811.2 L2029.3 815.0 L2030.7 818.8 L2032.0 822.6 L2033.3 826.3 L2034.6 830.1 L2035.9 833.9 L2037.2 837.7 L2038.6 841.4 L2039.9 845.2 L2041.2 849.0 L2042.5 852.7 L2043.8 856.5 L2045.1 860.3 L2046.4 864.0 L2047.7 867.8 L2049.1 871.6 L2050.4 875.3 L2051.7 879.1 L2053.0 882.8 L2054.3 886.6 L2055.7 890.3 L2057.0 894.1 L2058.4 897.8 L2059.7 901.6 L2061.1 905.3 L2062.4 909.1 L2063.8 912.8 L2065.2 916.6 L2066.6 920.3 L2067.9 924.1 L2069.3 927.8 L2070.8 931.5 L2072.2 935.3 L2073.6 939.0 L2075.1 942.7 L2076.5 946.5 L2078.0 950.2 L2079.4 953.9 L2080.9 957.6 L2082.4 961.4 L2084.0 965.1 L2085.5 968.8 L2087.0 972.5 L2088.6 976.2 L2090.2 979.9 L2091.8 983.6 L2093.4 987.3 L2095.0 991.0 L2096.6 994.7 L2098.3 998.4 L2100.0 1002.1 L2101.7 1005.7 L2103.4 1009.4 L2105.2 1013.0 L2107.0 1016.7 L2108.8 1020.3 L2110.6 1023.9 L2112.5 1027.5 L2114.4 1031.0 L2116.3 1034.5 L2118.3 1038.1 L2120.3 1041.5 L2122.3 1045.0 L2124.4 1048.5 L2126.5 1051.9 L2128.7 1055.2 L2130.9 1058.6 L2133.1 1061.9 L2135.4 1065.2 L2137.7 1068.4 L2140.0 1071.7 L2142.4 1074.8 L2144.9 1078.0 L2147.4 1081.1 L2149.9 1084.1 L2152.5 1087.2 L2155.1 1090.1 L2157.8 1093.1 L2160.5 1095.9 L2163.3 1098.8 L2166.1 1101.5 L2169.0 1104.3 L2171.9 1106.9 L2174.8 1109.6 L2177.8 1112.1 L2180.9 1114.6 L2184.0 1117.1 L2187.1 1119.5 L2190.3 1121.8 L2193.5 1124.0 L2196.7 1126.2 L2200.0 1128.4 L2203.4 1130.4 L2206.8 1132.4 L2210.2 1134.3 L2213.7 1136.2 L2217.2 1138.0 L2220.8 1139.7 L2224.3 1141.3 L2228.0 1142.9 L2231.6 1144.4 L2235.3 1145.8 L2239.1 1147.1 L2242.8 1148.4 L2246.6 1149.6 L2250.4 1150.7 L2254.3 1151.8 L2258.1 1152.8 L2262.0 1153.7 L2265.9 1154.5 L2269.8 1155.3 L2273.8 1156.0 L2277.8 1156.6 L2281.7 1157.2 L2285.7 1157.7 L2289.8 1158.1 L2293.8 1158.4 L2297.8 1158.7 L2301.9 1158.9 L2305.9 1159.1 L2309.9 1159.1 L2314.0 1159.1 L2318.0 1159.1 L2322.1 1159.0 L2326.2 1158.8 L2330.2 1158.6 L2334.2 1158.3 L2338.3 1157.9 L2342.3 1157.5 L2346.3 1157.0 L2350.3 1156.5 L2354.3 1155.9 L2358.3 1155.3 L2362.2 1154.5 L2366.2 1153.8 L2370.1 1153.0 L2374.0 1152.1 L2377.9 1151.2 L2381.7 1150.2 L2385.5 1149.2 L2389.3 1148.1 L2393.1 1147.0 L2396.8 1145.8"/>
</g>
<g class="crisp" fill="#000000" opacity="0.1">
<rect x="676.0" y="76" width="8" height="1053"/>
<rect x="1109.5" y="76" width="8" height="1053"/>
<rect x="1534.5" y="76" width="8" height="1053"/>
<rect x="1964.0" y="76" width="8" height="1053"/>
<rect x="276" y="267.0" width="2096" height="8"/>
<rect x="276" y="487.0" width="2096" height="8"/>
<rect x="276" y="707.0" width="2096" height="8"/>
<rect x="276" y="927.0" width="2096" height="8"/>
</g>
<g class="crisp">
<rect x="371" y="267" width="742.5" height="266" fill="#000000"/>
<rect x="379" y="275" width="726.5" height="250" fill="#ffffff"/>
<rect x="408" y="317" width="165" height="17" fill="#00b0f0"/>
<rect x="408" y="385" width="165" height="17" fill="#00b050"/>
<rect x="408" y="465.5" width="165" height="17" fill="#ffc000"/>
</g>
<g font-size="76.5">
<text transform="translate(596.6 359.2) scale(0.976 1)">Proposed</text>
<text transform="translate(596.6 426.6) scale(0.976 1)">Luo converter</text>
<text transform="translate(596.6 507.3) scale(0.976 1)">Boost converter</text>
</g>
<g class="crisp" fill="#000000">
<rect x="247" y="47" width="2158" height="8"/>
<rect x="247" y="1151" width="2158" height="8"/>
<rect x="247" y="47" width="8" height="1112"/>
<rect x="2397" y="47" width="8" height="1112"/>
</g>
<g font-size="76" text-anchor="end">
<text transform="translate(222 84.3) scale(1.016 1)">1</text>
<text transform="translate(222 304.3) scale(1.016 1)">0.8</text>
<text transform="translate(222 524.3) scale(1.016 1)">0.6</text>
<text transform="translate(222 744.3) scale(1.016 1)">0.4</text>
<text transform="translate(222 964.3) scale(1.016 1)">0.2</text>
<text transform="translate(222 1184.3) scale(1.016 1)">0</text>
</g>
<g font-size="76" text-anchor="middle">
<text transform="translate(249 1247.2) scale(1.016 1)">0</text>
<text transform="translate(682 1247.2) scale(1.016 1)">0.2</text>
<text transform="translate(1115.3 1247.2) scale(1.016 1)">0.4</text>
<text transform="translate(1541 1247.2) scale(1.016 1)">0.6</text>
<text transform="translate(1970 1247.2) scale(1.016 1)">0.8</text>
<text transform="translate(2403 1247.2) scale(1.016 1)">1</text>
</g>
<text class="axl" font-size="94" transform="translate(1173.5 1315.8) scale(0.974 1.036)">Duty cycle</text>
<text class="axl" font-size="98" transform="translate(105.9 803) rotate(-90) scale(0.951 1.075)">Efficiency</text>
</svg>
</body>
</html>
